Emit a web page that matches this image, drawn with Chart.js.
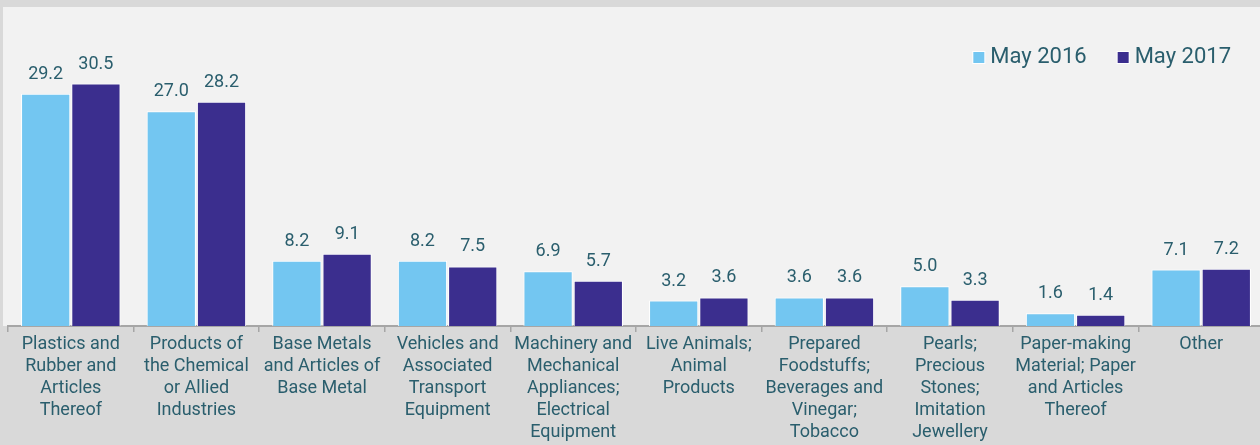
<!DOCTYPE html>
<html lang="en">
<head>
    <meta charset="UTF-8">
    <title>Imports by Commodity</title>
    <script src="https://cdn.jsdelivr.net/npm/chart.js@4.4.0/dist/chart.umd.min.js"></script>
    <style>
        body { margin: 0; background: #d9d9d9; overflow: hidden; }
        #wrap { width: 1264px; height: 445px; position: relative; }
    </style>
</head>
<body>
    <div id="wrap"><canvas id="myChart"></canvas></div>

    <script>
        // chart data
        var categories = [
            ['Plastics and', 'Rubber and', 'Articles', 'Thereof'],
            ['Products of', 'the Chemical', 'or Allied', 'Industries'],
            ['Base Metals', 'and Articles of', 'Base Metal'],
            ['Vehicles and', 'Associated', 'Transport', 'Equipment'],
            ['Machinery and', 'Mechanical', 'Appliances;', 'Electrical', 'Equipment'],
            ['Live Animals;', 'Animal', 'Products'],
            ['Prepared', 'Foodstuffs;', 'Beverages and', 'Vinegar;', 'Tobacco'],
            ['Pearls;', 'Precious', 'Stones;', 'Imitation', 'Jewellery'],
            ['Paper-making', 'Material; Paper', 'and Articles', 'Thereof'],
            ['Other']
        ];
        var seriesNames = ['May 2016', 'May 2017'];
        var may2016 = [29.2, 27.0, 8.2, 8.2, 6.9, 3.2, 3.6, 5.0, 1.6, 7.1];
        var may2017 = [30.5, 28.2, 9.1, 7.5, 5.7, 3.6, 3.6, 3.3, 1.4, 7.2];

        var textColor = '#2a5e6d';
        var fontName = 'Roboto';

        // light panel behind the plot
        var panelPlugin = {
            id: 'panel',
            beforeDraw: function(chart) {
                var ctx = chart.ctx;
                ctx.save();
                ctx.fillStyle = '#f2f2f2';
                ctx.fillRect(3, 7, chart.width - 3, chart.chartArea.bottom - 7);
                ctx.restore();
            }
        };

        // numbers above bars
        var valuePlugin = {
            id: 'values',
            afterDatasetsDraw: function(chart) {
                var ctx = chart.ctx;
                ctx.save();
                ctx.font = '18px ' + fontName;
                ctx.fillStyle = textColor;
                ctx.textAlign = 'center';
                ctx.textBaseline = 'alphabetic';
                chart.data.datasets.forEach(function(ds, i) {
                    chart.getDatasetMeta(i).data.forEach(function(bar, j) {
                        ctx.fillText(ds.data[j].toFixed(1), bar.x, bar.y - 15);
                    });
                });
                ctx.restore();
            }
        };

        // legend in the top right corner of the panel
        var legendPlugin = {
            id: 'cornerLegend',
            afterDraw: function(chart) {
                var ctx = chart.ctx;
                ctx.save();
                ctx.font = '22px ' + fontName;
                ctx.textBaseline = 'middle';
                var x = chart.width - 33;
                var y = 57;
                var items = chart.data.datasets.slice().reverse();
                items.forEach(function(ds) {
                    var w = ctx.measureText(ds.label).width;
                    var tx = x - w;
                    ctx.fillStyle = textColor;
                    ctx.fillText(ds.label, tx, y);
                    var bx = tx - 17;
                    ctx.fillStyle = '#ffffff';
                    ctx.fillRect(bx - 1, y - 6, 13, 13);
                    ctx.fillStyle = ds.backgroundColor;
                    ctx.fillRect(bx, y - 5, 11, 11);
                    x = bx - 31;
                });
                ctx.restore();
            }
        };

        var ctx = document.getElementById('myChart').getContext('2d');
        var myChart = new Chart(ctx, {
            type: 'bar',
            data: {
                labels: categories,
                datasets: [{
                    label: seriesNames[0],
                    data: may2016,
                    backgroundColor: '#73c6f1',
                    borderColor: '#ffffff',
                    borderWidth: 1
                }, {
                    label: seriesNames[1],
                    data: may2017,
                    backgroundColor: '#3b2e8e',
                    borderColor: '#ffffff',
                    borderWidth: 1
                }]
            },
            options: {
                responsive: true,
                maintainAspectRatio: false,
                animation: false,
                layout: { padding: { left: 8, top: 8, right: 0, bottom: 0 } },
                datasets: {
                    bar: { barPercentage: 0.98, categoryPercentage: 0.8 }
                },
                plugins: {
                    legend: { display: false },
                    tooltip: { enabled: false }
                },
                scales: {
                    x: {
                        grid: {
                            display: true,
                            drawOnChartArea: false,
                            drawTicks: true,
                            tickLength: 6,
                            color: '#a6a6a6',
                            lineWidth: 1.5,
                            offset: true
                        },
                        border: { display: true, color: '#a6a6a6', width: 2 },
                        ticks: {
                            color: textColor,
                            font: { family: fontName, size: 18, lineHeight: 1.22 },
                            padding: 2,
                            maxRotation: 0,
                            autoSkip: false
                        },
                        afterFit: function(scale) { scale.height = 119; }
                    },
                    y: {
                        display: false,
                        min: 0,
                        max: 40
                    }
                }
            },
            plugins: [panelPlugin, valuePlugin, legendPlugin]
        });
    </script>
</body>
</html>
